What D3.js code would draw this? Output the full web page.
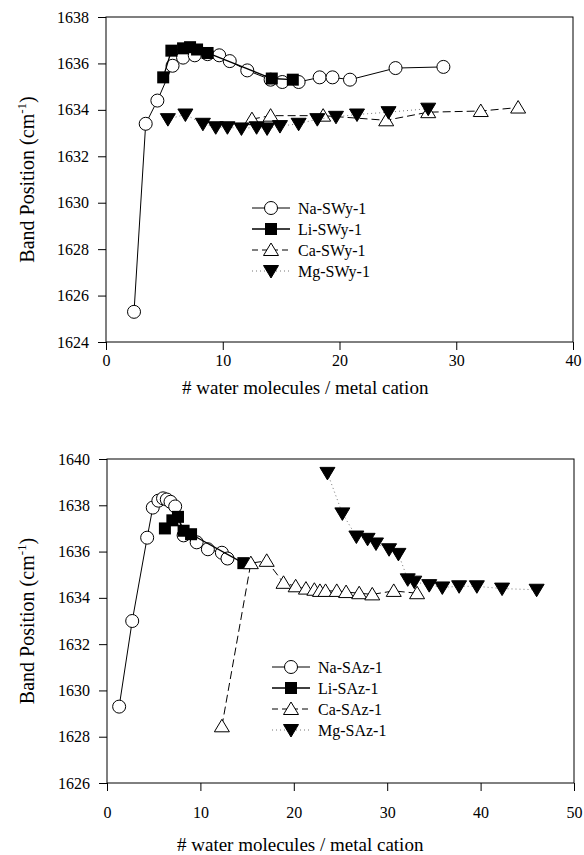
<!DOCTYPE html>
<html>
<head>
<meta charset="utf-8">
<script src="https://cdn.jsdelivr.net/npm/d3@7"></script>
<style>
  body { margin: 0; background: #fff; }
  svg { display: block; font-family: "Liberation Serif", "Times New Roman", serif; }
</style>
</head>
<body>
<svg id="chart" width="584" height="855"></svg>
<script>
// ---- data: [water molecules / cation, band position] ----
// top panel (SWy-1)
var naSWy = [[2.4, 1625.3], [3.4, 1633.4], [4.4, 1634.4], [5.7, 1635.9], [6.6, 1636.25],
  [7.6, 1636.35], [8.7, 1636.4], [9.7, 1636.35], [10.6, 1636.1], [12.1, 1635.7],
  [14.1, 1635.3], [15.1, 1635.2], [16.5, 1635.2], [18.3, 1635.4], [19.4, 1635.4],
  [20.9, 1635.3], [24.8, 1635.8], [28.9, 1635.85]];
var liSWy = [[4.9, 1635.4], [5.6, 1636.55], [6.6, 1636.65], [7.2, 1636.7], [7.8, 1636.6],
  [8.7, 1636.45], [14.2, 1635.35], [16.0, 1635.3]];
var caSWy = [[12.5, 1633.6], [14.1, 1633.75], [18.6, 1633.75], [24.0, 1633.55],
  [27.6, 1633.9], [32.1, 1633.95], [35.3, 1634.1]];
var mgSWy = [[5.3, 1633.6], [6.8, 1633.8], [8.3, 1633.4], [9.4, 1633.25], [10.4, 1633.25],
  [11.6, 1633.2], [12.9, 1633.25], [13.8, 1633.2], [14.9, 1633.3], [16.5, 1633.4],
  [18.1, 1633.6], [19.7, 1633.7], [21.5, 1633.8], [24.2, 1633.9], [27.6, 1634.05]];

// bottom panel (SAz-1)
var naSAz = [[1.3, 1629.3], [2.7, 1633.0], [4.3, 1636.6], [4.9, 1637.9], [5.5, 1638.2],
  [6.0, 1638.3], [6.4, 1638.25], [6.8, 1638.15], [7.3, 1637.95], [8.2, 1636.7],
  [9.6, 1636.4], [10.8, 1636.1], [12.3, 1635.95], [12.9, 1635.7]];
var liSAz = [[6.2, 1637.0], [7.0, 1637.35], [7.6, 1637.5], [8.2, 1636.9], [9.0, 1636.75],
  [14.6, 1635.5]];
var caSAz = [[12.3, 1628.45], [15.4, 1635.5], [17.1, 1635.6], [18.9, 1634.65], [20.2, 1634.5],
  [21.3, 1634.4], [22.2, 1634.35], [22.8, 1634.3], [23.4, 1634.3], [24.6, 1634.3],
  [25.6, 1634.25], [27.0, 1634.2], [28.4, 1634.15], [30.7, 1634.3], [33.2, 1634.2]];
var mgSAz = [[23.6, 1639.4], [25.2, 1637.65], [26.7, 1636.65], [27.9, 1636.55], [28.8, 1636.35],
  [30.2, 1636.1], [31.2, 1635.9], [32.2, 1634.8], [32.9, 1634.7], [34.5, 1634.55],
  [35.9, 1634.45], [37.7, 1634.5], [39.6, 1634.5], [42.3, 1634.4], [46.0, 1634.35]];

var topLabels = ["Na-SWy-1", "Li-SWy-1", "Ca-SWy-1", "Mg-SWy-1"];
var bottomLabels = ["Na-SAz-1", "Li-SAz-1", "Ca-SAz-1", "Mg-SAz-1"];

var topXTicks = [0, 10, 20, 30, 40];
var topYTicks = [1624, 1626, 1628, 1630, 1632, 1634, 1636, 1638];
var bottomXTicks = [0, 10, 20, 30, 40, 50];
var bottomYTicks = [1626, 1628, 1630, 1632, 1634, 1636, 1638, 1640];

var xTitle = "# water molecules / metal cation";

// ---- styles per series: Na, Li, Ca, Mg ----
var styles = [
  { marker: "circle", line: "#000", width: 1, dash: null },
  { marker: "square", line: "#000", width: 1.3, dash: null },
  { marker: "up", line: "#000", width: 1, dash: "8,4" },
  { marker: "down", line: "#777", width: 1, dash: "1,3" }
];

var serif = "Liberation Serif";
var svg = d3.select("#chart");

function markerPath(kind) {
  if (kind === "up") return "M0,-7L7.5,5.5L-7.5,5.5Z";
  if (kind === "down") return "M0,7L7.5,-5.5L-7.5,-5.5Z";
  return null;
}

function drawMarker(g, kind, x, y) {
  if (kind === "circle") {
    g.append("circle").attr("cx", x).attr("cy", y).attr("r", 6.5)
      .attr("fill", "#fff").attr("stroke", "#000").attr("stroke-width", 1);
  } else if (kind === "square") {
    g.append("rect").attr("x", x - 6).attr("y", y - 6).attr("width", 12).attr("height", 12)
      .attr("fill", "#000");
  } else {
    g.append("path").attr("transform", "translate(" + x + "," + y + ")")
      .attr("d", markerPath(kind))
      .attr("fill", kind === "up" ? "#fff" : "#000")
      .attr("stroke", "#000").attr("stroke-width", 1);
  }
}

function drawPanel(p) {
  var x = d3.scaleLinear().domain(p.xDomain).range([p.left, p.right]);
  var y = d3.scaleLinear().domain(p.yDomain).range([p.bottom, p.top]);
  var g = svg.append("g");

  // frame
  g.append("rect").attr("x", p.left).attr("y", p.top)
    .attr("width", p.right - p.left).attr("height", p.bottom - p.top)
    .attr("fill", "none").attr("stroke", "#000").attr("stroke-width", 1);

  var xAxis = g.append("g").attr("transform", "translate(0," + p.bottom + ")")
    .call(d3.axisBottom(x).tickValues(p.xTicks).tickFormat(d3.format("d"))
      .tickSize(8).tickPadding(p.xPad));
  var yAxis = g.append("g").attr("transform", "translate(" + p.left + ",0)")
    .call(d3.axisLeft(y).tickValues(p.yTicks).tickFormat(d3.format("d"))
      .tickSize(8).tickPadding(9));
  [xAxis, yAxis].forEach(function (a) {
    a.attr("font-family", serif).attr("font-size", 16);
    a.select(".domain").remove();
    a.selectAll("text").attr("font-family", serif).attr("font-size", 16).attr("fill", "#000");
    a.selectAll("line").attr("stroke", "#000");
  });

  var line = d3.line().x(function (d) { return x(d[0]); }).y(function (d) { return y(d[1]); });

  p.series.forEach(function (s, i) {
    var st = styles[i];
    g.append("path").datum(s).attr("d", line)
      .attr("fill", "none").attr("stroke", st.line).attr("stroke-width", st.width)
      .attr("stroke-dasharray", st.dash);
    s.forEach(function (d) { drawMarker(g, st.marker, x(d[0]), y(d[1])); });
  });

  // legend
  p.labels.forEach(function (lab, i) {
    var st = styles[i];
    var ly = p.legY + i * p.legStep;
    g.append("line").attr("x1", p.legX).attr("x2", p.legX + 38).attr("y1", ly).attr("y2", ly)
      .attr("stroke", st.line).attr("stroke-width", st.width)
      .attr("stroke-dasharray", i === 2 ? "6,4" : st.dash);
    drawMarker(g, st.marker, p.legX + 19, ly);
    g.append("text").attr("x", p.legX + 46).attr("y", ly).attr("dy", "0.35em")
      .attr("font-family", serif).attr("font-size", 16).text(lab);
  });

  // axis titles
  g.append("text").attr("x", p.titleX).attr("y", p.titleY)
    .attr("font-family", serif).attr("font-size", 19).text(xTitle);

  var yt = g.append("text")
    .attr("transform", "translate(" + p.yTitleX + "," + ((p.top + p.bottom) / 2) + ") rotate(-90)")
    .attr("text-anchor", "middle").attr("font-family", serif).attr("font-size", 20);
  yt.append("tspan").text("Band Position (cm");
  yt.append("tspan").attr("dy", -8).attr("font-size", 13).text("-1");
  yt.append("tspan").attr("dy", 8).text(")");
}

drawPanel({
  left: 106, right: 573, top: 17, bottom: 342,
  xDomain: [0, 40], yDomain: [1624, 1638],
  xTicks: topXTicks, yTicks: topYTicks, xPad: 5,
  series: [naSWy, liSWy, caSWy, mgSWy], labels: topLabels,
  legX: 252, legY: 208, legStep: 21,
  titleX: 182, titleY: 394, yTitleX: 34
});

drawPanel({
  left: 107, right: 574, top: 459, bottom: 783,
  xDomain: [0, 50], yDomain: [1626, 1640],
  xTicks: bottomXTicks, yTicks: bottomYTicks, xPad: 16,
  series: [naSAz, liSAz, caSAz, mgSAz], labels: bottomLabels,
  legX: 272, legY: 667, legStep: 21,
  titleX: 177, titleY: 851, yTitleX: 34
});
</script>
</body>
</html>
